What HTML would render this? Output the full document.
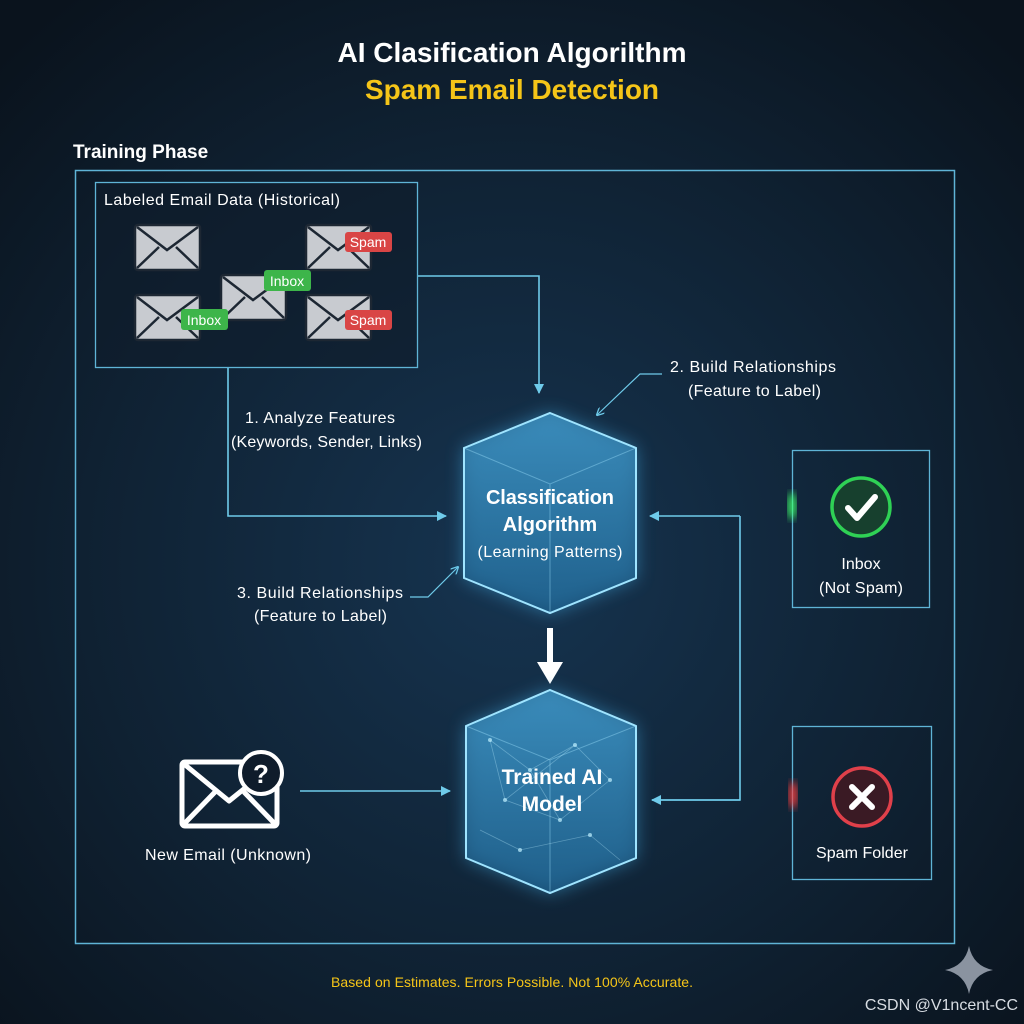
<!DOCTYPE html>
<html><head><meta charset="utf-8"><style>
html,body{margin:0;padding:0;width:1024px;height:1024px;overflow:hidden;background:#0d1825}
svg{display:block}
text{font-family:"Liberation Sans",sans-serif}
</style></head><body>
<svg width="1024" height="1024" viewBox="0 0 1024 1024" xmlns="http://www.w3.org/2000/svg">
<defs>
<radialGradient id="bg" cx="50%" cy="55%" r="70%">
<stop offset="0" stop-color="#163450"/><stop offset="0.6" stop-color="#0f2132"/><stop offset="1" stop-color="#0a131d"/>
</radialGradient>
<linearGradient id="hex" x1="0" y1="0" x2="0" y2="1">
<stop offset="0" stop-color="#3f95c6" stop-opacity="0.75"/><stop offset="1" stop-color="#1b5a86" stop-opacity="0.75"/>
</linearGradient>
<filter id="glow" x="-30%" y="-30%" width="160%" height="160%"><feGaussianBlur stdDeviation="9"/></filter>
<filter id="soft"><feGaussianBlur stdDeviation="4"/></filter>
<marker id="ar" markerWidth="10" markerHeight="10" refX="9" refY="5" orient="auto" markerUnits="userSpaceOnUse"><path d="M0,0 L10,5 L0,10z" fill="#6fcbea"/></marker>
<marker id="as" markerWidth="8" markerHeight="8" refX="7" refY="4" orient="auto" markerUnits="userSpaceOnUse"><path d="M0,0 L8,4 L0,8" fill="none" stroke="#6fcbea" stroke-width="1.3"/></marker>
</defs>
<rect width="1024" height="1024" fill="url(#bg)"/>

<text x="512" y="62" text-anchor="middle" font-size="28" font-weight="bold" fill="#fff">AI Clasification Algorilthm</text>
<text x="512" y="99" text-anchor="middle" font-size="28" font-weight="bold" fill="#f5c518">Spam Email Detection</text>
<text x="73" y="158" font-size="19" font-weight="bold" fill="#fff">Training Phase</text>

<rect x="75.5" y="170.5" width="879" height="773" fill="none" stroke="#5fb4d6" stroke-width="1.5"/>
<rect x="95.5" y="182.5" width="322" height="185" fill="#0f1d2c" fill-opacity="0.6" stroke="#5fb4d6" stroke-width="1.3"/>
<text x="104" y="205" font-size="16" fill="#fff" textLength="236">Labeled Email Data (Historical)</text>

<g stroke="#1d2733" stroke-width="2.5" fill="#c8cbd0">
<g transform="translate(135,225)"><rect width="65" height="45" rx="3"/><path d="M2,2 L32,25 L63,2 M2,43 L24,22 M63,43 L41,22" fill="none"/></g>
<g transform="translate(306,225)"><rect width="65" height="45" rx="3"/><path d="M2,2 L32,25 L63,2 M2,43 L24,22 M63,43 L41,22" fill="none"/></g>
<g transform="translate(221,275)"><rect width="65" height="45" rx="3"/><path d="M2,2 L32,25 L63,2 M2,43 L24,22 M63,43 L41,22" fill="none"/></g>
<g transform="translate(135,295)"><rect width="65" height="45" rx="3"/><path d="M2,2 L32,25 L63,2 M2,43 L24,22 M63,43 L41,22" fill="none"/></g>
<g transform="translate(306,295)"><rect width="65" height="45" rx="3"/><path d="M2,2 L32,25 L63,2 M2,43 L24,22 M63,43 L41,22" fill="none"/></g>
</g>
<rect x="345" y="232" width="47" height="20" rx="3" fill="#d94545"/><text x="368" y="247" text-anchor="middle" font-size="14" fill="#fff">Spam</text>
<rect x="345" y="310" width="47" height="20" rx="3" fill="#d94545"/><text x="368" y="325" text-anchor="middle" font-size="14" fill="#fff">Spam</text>
<rect x="264" y="270" width="47" height="21" rx="3" fill="#3db54a"/><text x="287" y="286" text-anchor="middle" font-size="14" fill="#fff">Inbox</text>
<rect x="181" y="309" width="47" height="21" rx="3" fill="#3db54a"/><text x="204" y="325" text-anchor="middle" font-size="14" fill="#fff">Inbox</text>

<g fill="none" stroke="#6fcbea" stroke-width="1.6">
<path d="M418,276 H539 V393" marker-end="url(#ar)"/>
<path d="M228,368 V516 H446" marker-end="url(#ar)"/>
<path d="M740,516 V800 H652" />
<path d="M740,516 H650" marker-end="url(#ar)"/>
<path d="M740,800 H652" marker-end="url(#ar)"/>
<path d="M300,791 H450" marker-end="url(#ar)"/>
</g>
<g fill="none" stroke="#6fcbea" stroke-width="1.2">
<path d="M662,374 H640 L597,415" marker-end="url(#as)"/>
<path d="M410,597 H428 L458,567" marker-end="url(#as)"/>
</g>
<text x="670" y="372" font-size="16" fill="#fff" textLength="166">2. Build Relationships</text>
<text x="688" y="396" font-size="16" fill="#fff" textLength="133">(Feature to Label)</text>
<text x="245" y="423" font-size="16" fill="#fff" textLength="150">1. Analyze Features</text>
<text x="231" y="447" font-size="16" fill="#fff" textLength="191">(Keywords, Sender, Links)</text>
<text x="237" y="598" font-size="16" fill="#fff" textLength="166">3. Build Relationships</text>
<text x="254" y="621" font-size="16" fill="#fff" textLength="133">(Feature to Label)</text>

<g>
<polygon points="550,413 636,448 636,578 550,613 464,578 464,448" fill="#3fa8e0" opacity="0.55" filter="url(#glow)"/>
<polygon points="550,413 636,448 636,578 550,613 464,578 464,448" fill="url(#hex)" stroke="#9fe4ff" stroke-width="2"/>
<path d="M464,448 L550,484 L636,448 M550,484 V613" stroke="#9fe4ff" stroke-opacity="0.4" fill="none"/>
<text x="550" y="504" text-anchor="middle" font-size="20" font-weight="bold" fill="#fff" textLength="128">Classification</text>
<text x="550" y="531" text-anchor="middle" font-size="20" font-weight="bold" fill="#fff">Algorithm</text>
<text x="550" y="557" text-anchor="middle" font-size="16" fill="#fff" textLength="145">(Learning Patterns)</text>
</g>
<path d="M550,628 V664" stroke="#fff" stroke-width="6"/>
<path d="M537,662 H563 L550,684z" fill="#fff"/>
<g>
<polygon points="550,690 636,726 636,858 550,893 466,858 466,726" fill="#3fa8e0" opacity="0.55" filter="url(#glow)"/>
<polygon points="550,690 636,726 636,858 550,893 466,858 466,726" fill="url(#hex)" stroke="#9fe4ff" stroke-width="2"/>
<path d="M466,726 L550,760 L636,726 M550,760 V893" stroke="#9fe4ff" stroke-opacity="0.4" fill="none"/>
<g stroke="#bdefff" stroke-opacity="0.35" stroke-width="0.8" fill="none"><path d="M490,740 L530,770 L575,745 L610,780 L560,820 L505,800 L490,740 M530,770 L560,820 M575,745 L505,800 M480,830 L520,850 L590,835 L620,860"/></g>
<g fill="#bdefff" opacity="0.7"><circle cx="490" cy="740" r="2"/><circle cx="530" cy="770" r="2"/><circle cx="575" cy="745" r="2"/><circle cx="610" cy="780" r="2"/><circle cx="560" cy="820" r="2"/><circle cx="505" cy="800" r="2"/><circle cx="520" cy="850" r="2"/><circle cx="590" cy="835" r="2"/></g>
<text x="552" y="784" text-anchor="middle" font-size="21" font-weight="bold" fill="#fff">Trained AI</text>
<text x="552" y="811" text-anchor="middle" font-size="21" font-weight="bold" fill="#fff">Model</text>
</g>

<g fill="none" stroke="#fff" stroke-width="5" stroke-linejoin="round">
<rect x="182" y="762" width="95" height="64" rx="3"/>
<path d="M184,764 L229,801 L275,764 M184,824 L215,792 M275,824 L244,792"/>
</g>
<circle cx="261" cy="773" r="21" fill="#0f1c2b" stroke="#fff" stroke-width="4"/>
<text x="261" y="783" text-anchor="middle" font-size="26" font-weight="bold" fill="#fff">?</text>
<text x="228" y="860" text-anchor="middle" font-size="16" fill="#fff" textLength="166">New Email (Unknown)</text>

<rect x="792.5" y="450.5" width="137" height="157" fill="none" stroke="#5fb4d6" stroke-width="1.3"/>
<ellipse cx="792" cy="506" rx="4" ry="14" fill="#3dff6a" filter="url(#soft)"/>
<circle cx="861" cy="507" r="29" fill="#17402e" stroke="#2fd155" stroke-width="3.5"/>
<path d="M848,508 L857,518 L875,497" fill="none" stroke="#fff" stroke-width="6" stroke-linecap="round" stroke-linejoin="round"/>
<text x="861" y="569" text-anchor="middle" font-size="16" fill="#fff">Inbox</text>
<text x="861" y="593" text-anchor="middle" font-size="16" fill="#fff" textLength="84">(Not Spam)</text>

<rect x="792.5" y="726.5" width="139" height="153" fill="none" stroke="#5fb4d6" stroke-width="1.3"/>
<ellipse cx="793" cy="795" rx="4" ry="14" fill="#ff3d3d" filter="url(#soft)"/>
<circle cx="862" cy="797" r="29" fill="#3a1a24" stroke="#e0404a" stroke-width="3.5"/>
<path d="M852,787 L872,807 M872,787 L852,807" stroke="#fff" stroke-width="6" stroke-linecap="round"/>
<text x="862" y="858" text-anchor="middle" font-size="16" fill="#fff" textLength="92">Spam Folder</text>

<text x="512" y="987" text-anchor="middle" font-size="14" fill="#f5c518" textLength="362">Based on Estimates. Errors Possible. Not 100% Accurate.</text>
<path d="M969,946 Q973,966 993,970 Q973,974 969,994 Q965,974 945,970 Q965,966 969,946z" fill="#8a93a0"/>
<text x="1018" y="1010" text-anchor="end" font-size="16" fill="#d8dde3">CSDN @V1ncent-CC</text>
</svg>
</body></html>
